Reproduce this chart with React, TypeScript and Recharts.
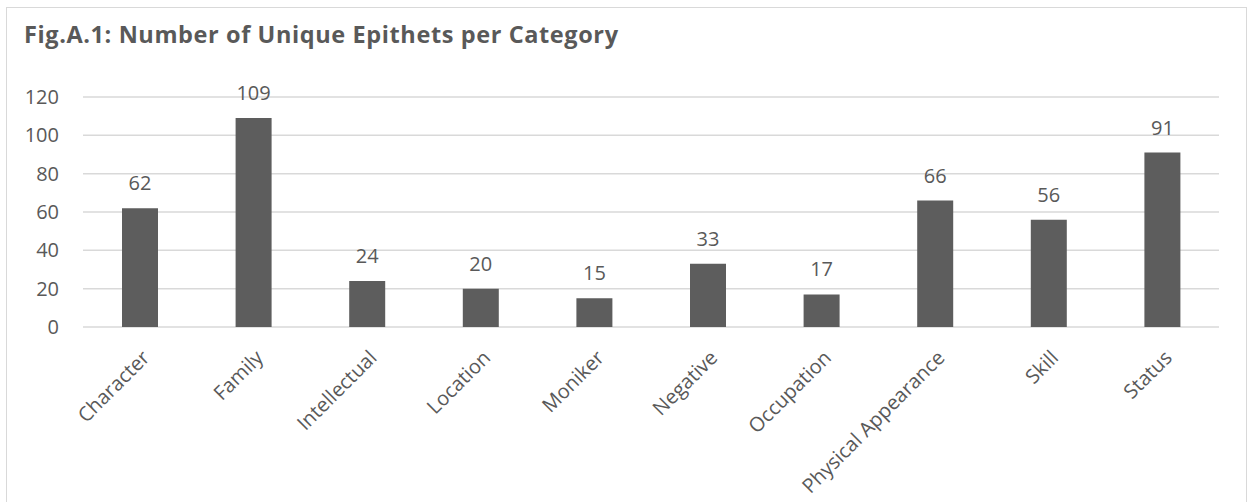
import React from 'react';
import { BarChart, Bar, XAxis, YAxis, CartesianGrid, LabelList } from 'recharts';

const categories = [
  'Character',
  'Family',
  'Intellectual',
  'Location',
  'Moniker',
  'Negative',
  'Occupation',
  'Physical Appearance',
  'Skill',
  'Status',
];
const epithetCounts = [62, 109, 24, 20, 15, 33, 17, 66, 56, 91];
const yTicks = [0, 20, 40, 60, 80, 100, 120];
const chartTitle = 'Fig.A.1: Number of Unique Epithets per Category';

const data = categories.map((category, i) => ({ category, count: epithetCounts[i] }));

const FONT = '"Open Sans", "Noto Sans", sans-serif';
const TEXT = '#595959';
const BAR = '#5d5d5d';
const GRID = '#d9d9d9';

const W = 1248;
const H = 502;

// Category labels, slanted 45° and anchored at their right end below the tick.
const SlantedTick = (props: any) => {
  const { x, y, payload } = props;
  const ax = x + 11;
  const ay = y + 32;
  return (
    <text
      x={ax}
      y={ay}
      transform={`rotate(-45, ${ax}, ${ay})`}
      textAnchor="end"
      fill={TEXT}
      fontFamily={FONT}
      fontSize={20}
    >
      {payload.value}
    </text>
  );
};

export default function App() {
  return (
    <div style={{ position: 'fixed', left: 0, top: 0, width: W, height: H, background: '#fff', overflow: 'hidden' }}>
      <div
        style={{
          position: 'absolute',
          left: 6,
          top: 7,
          width: 1241,
          height: 520,
          border: `1.5px solid ${GRID}`,
          boxSizing: 'border-box',
        }}
      />
      <svg width={W} height={60} style={{ position: 'absolute', left: 0, top: 0 }}>
        <text
          x={24}
          y={43}
          fill={TEXT}
          fontFamily={FONT}
          fontWeight={700}
          fontSize={23.5}
          textLength={594}
        >
          {chartTitle}
        </text>
      </svg>
      <div style={{ position: 'absolute', left: 0, top: 0 }}>
        <BarChart width={W} height={H} data={data} margin={{ top: 97, right: 29, bottom: 0, left: 0 }}>
          <CartesianGrid vertical={false} stroke={GRID} strokeWidth={1.5} />
          <XAxis
            dataKey="category"
            interval={0}
            height={175}
            axisLine={false}
            tickLine={false}
            tickSize={0}
            tickMargin={0}
            tick={<SlantedTick />}
          />
          <YAxis
            domain={[0, 120]}
            ticks={yTicks}
            width={83}
            axisLine={false}
            tickLine={false}
            tickSize={0}
            tickMargin={24}
            tick={{ fill: TEXT, fontFamily: FONT, fontSize: 20 }}
          />
          <Bar dataKey="count" fill={BAR} barSize={36} isAnimationActive={false}>
            <LabelList
              dataKey="count"
              position="top"
              offset={18}
              fill={TEXT}
              fontFamily={FONT}
              fontSize={20}
            />
          </Bar>
        </BarChart>
      </div>
    </div>
  );
}
